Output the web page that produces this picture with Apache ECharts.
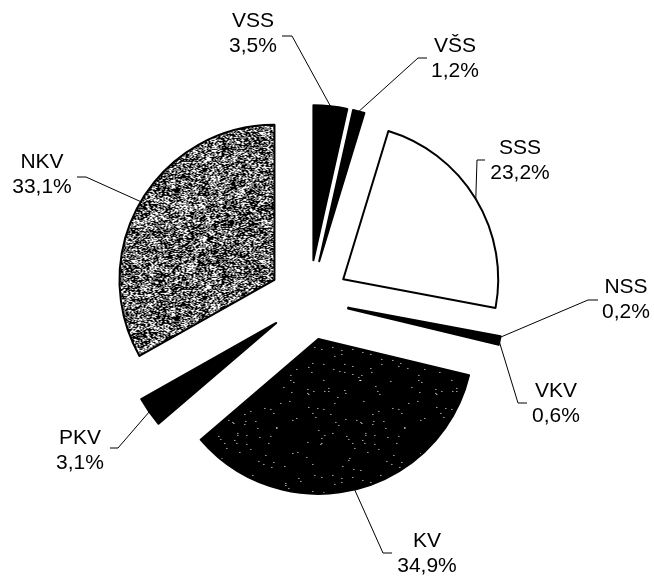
<!DOCTYPE html>
<html>
<head>
<meta charset="utf-8" />
<title>Pie</title>
<style>
html, body { margin: 0; padding: 0; background: #fff; }
#chart { width: 654px; height: 577px; }
</style>
</head>
<body>
<div id="chart"></div>
<script src="https://cdn.jsdelivr.net/npm/echarts@6/dist/echarts.min.js"></script>
<script>
// data (percent shares, clockwise from the top)
var categories = ['VSS', 'VŠS', 'SSS', 'NSS', 'VKV', 'KV', 'PKV', 'NKV'];
var shares = [3.5, 1.2, 23.2, 0.2, 0.6, 34.9, 3.1, 33.1];

// pie geometry (pixels)
var cx = 309, cy = 300, R = 155, explode = 40;

// where each label sits and how its leader line bends
var labelPos = {
  'VSS': { at: [253, 34],  bend: [292, 36],  end: [282, 36] },
  'VŠS': { at: [455, 59],  bend: [418, 58],  end: [427, 58] },
  'SSS': { at: [520, 161], bend: [477, 160], end: [485, 160] },
  'NSS': { at: [626, 300], bend: [588, 300], end: [598, 300] },
  'VKV': { at: [556, 404], bend: [518, 403], end: [527, 403] },
  'KV':  { at: [427, 554], bend: [383, 553], end: [392, 553] },
  'PKV': { at: [80, 451],  bend: [118, 448], end: [110, 448] },
  'NKV': { at: [42, 175],  bend: [86, 177],  end: [77, 177] }
};

// small fixed hash so textures look the same every run
function hash(x, y, s) {
  var h = (x * 374761393 + y * 668265263 + s * 2147483647) | 0;
  h = (h ^ (h >>> 13)) * 1274126177 | 0;
  h = h ^ (h >>> 16);
  return ((h >>> 0) % 10000) / 10000;
}

function texture(size, dens, seed, dark, clump) {
  var c = document.createElement('canvas');
  c.width = size; c.height = size;
  var ctx = c.getContext('2d');
  var img = ctx.createImageData(size, size);
  for (var y = 0; y < size; y++) {
    for (var x = 0; x < size; x++) {
      var v = hash(x, y, seed);
      var blob = hash(x >> 3, y >> 3, seed + 7);
      var on = v < dens + (blob - 0.5) * clump;
      var g = dark ? (on ? 255 : 0) : (on ? 0 : 255);
      var i = (y * size + x) * 4;
      img.data[i] = g; img.data[i + 1] = g; img.data[i + 2] = g; img.data[i + 3] = 255;
    }
  }
  ctx.putImageData(img, 0, 0);
  return c;
}

var greyNoise = texture(128, 0.58, 3, false, 0.3);  // NKV
var darkNoise = texture(128, 0.007, 11, true, 0);   // KV

var fills = {
  'VSS': '#000', 'VŠS': '#000', 'SSS': '#fff', 'NSS': '#000', 'VKV': '#000',
  'KV': { image: darkNoise, repeat: 'repeat' },
  'PKV': '#000',
  'NKV': { image: greyNoise, repeat: 'repeat' }
};

// mid angle of each slice -> point on its (exploded) rim and its explode shift
var total = shares.reduce(function (a, b) { return a + b; }, 0);
var arcPoint = [], shift = [], rightSide = [];
var acc = 0;
for (var i = 0; i < shares.length; i++) {
  var mid = (acc + shares[i] / 2) / total * Math.PI * 2;
  var sx = Math.sin(mid), sy = -Math.cos(mid);
  arcPoint.push([cx + (R + explode) * sx, cy + (R + explode) * sy]);
  shift.push([explode * sx, explode * sy]);
  rightSide.push(sx > 0);
  acc += shares[i];
}

function pct(v) {
  return v.toFixed(1).replace('.', ',') + '%';
}

var pieData = categories.map(function (name, i) {
  return {
    name: name,
    value: shares[i],
    selected: true,
    itemStyle: { color: fills[name] }
  };
});

var myChart = echarts.init(document.getElementById('chart'), null, { renderer: 'canvas' });
var option = {
  animation: false,
  backgroundColor: '#fff',
  series: [
    {
      type: 'pie',
      center: [cx, cy],
      radius: [0, R],
      startAngle: 90,
      clockwise: true,
      selectedMode: 'multiple',
      selectedOffset: explode,
      avoidLabelOverlap: false,
      emphasis: { disabled: true },
      itemStyle: { borderColor: '#000', borderWidth: 2 },
      label: {
        show: true,
        position: 'outside',
        formatter: function (p) { return p.name + '\n' + pct(p.value); },
        fontFamily: '"Liberation Sans", Arial, sans-serif',
        fontSize: 21,
        lineHeight: 25,
        color: '#000'
      },
      labelLine: {
        show: true,
        length: 20,
        length2: 10,
        lineStyle: { color: '#000', width: 1 }
      },
      labelLayout: function (params) {
        var k = params.dataIndex;
        var lp = labelPos[categories[k]];
        var r = params.labelRect;
        var s = shift[k];
        // pie anchors right-side labels at their left edge, left-side ones at their right edge
        var anchorX = rightSide[k] ? r.x : r.x + r.width;
        // label and leader line ride along with the exploded slice, so take the shift back out
        var back = function (p) { return [p[0] - s[0], p[1] - s[1]]; };
        return {
          align: 'center',
          dx: lp.at[0] - anchorX - s[0],
          dy: lp.at[1] - (r.y + r.height / 2) - s[1],
          labelLinePoints: [back(arcPoint[k]), back(lp.bend), back(lp.end)]
        };
      },
      data: pieData
    }
  ]
};
option && myChart.setOption(option);
</script>
</body>
</html>
